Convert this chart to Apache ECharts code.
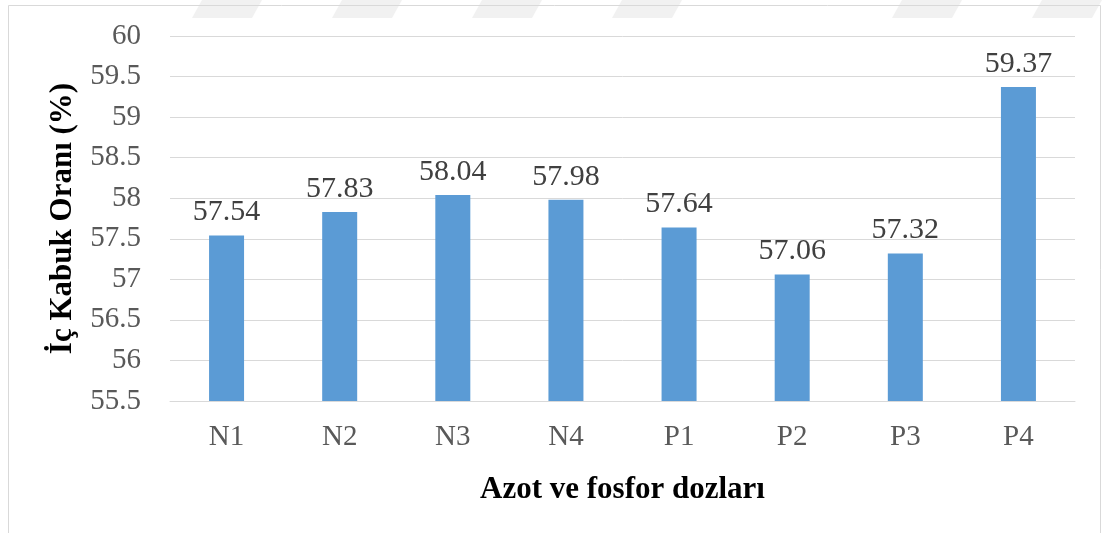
<!DOCTYPE html>
<html>
<head>
<meta charset="utf-8">
<script src="https://cdn.jsdelivr.net/npm/echarts@6/dist/echarts.min.js"></script>
<style>
  html, body { margin: 0; padding: 0; background: #fff; }
  #main { width: 1105px; height: 533px; }
</style>
</head>
<body>
<div id="main"></div>
<script>
// veriler
var categories = ['N1', 'N2', 'N3', 'N4', 'P1', 'P2', 'P3', 'P4'];
var values = [57.54, 57.83, 58.04, 57.98, 57.64, 57.06, 57.32, 59.37];
var yMin = 55.5, yMax = 60, yStep = 0.5;

var font = '"Liberation Serif", "Times New Roman", serif';

// üstteki soluk filigran şeritleri
var stripeX = [190, 330, 470, 610, 890, 1030];
var stripes = stripeX.map(function (x) {
  return {
    type: 'polygon',
    silent: true,
    z: -1,
    shape: { points: [[x + 12, 0], [x + 72, 0], [x + 62, 18], [x + 2, 18]] },
    style: { fill: '#f1f1f1' }
  };
});

var chart = echarts.init(document.getElementById('main'));
chart.setOption({
  animation: false,
  backgroundColor: '#fff',
  textStyle: { fontFamily: font },
  graphic: stripes.concat([{
    type: 'rect',
    silent: true,
    shape: { x: 8.5, y: 5.5, width: 1092, height: 540 },
    style: { fill: 'none', stroke: '#d9d9d9', lineWidth: 1 }
  }]),
  grid: { left: 170, right: 30, top: 36, bottom: 132 },
  xAxis: {
    type: 'category',
    data: categories,
    name: 'Azot ve fosfor dozları',
    nameLocation: 'middle',
    nameGap: 73,
    nameTextStyle: { fontFamily: font, fontSize: 31, fontWeight: 'bold', color: '#000' },
    axisLine: { lineStyle: { color: '#d9d9d9', width: 1 } },
    axisTick: { show: false },
    axisLabel: { fontFamily: font, fontSize: 29, color: '#595959', margin: 22 }
  },
  yAxis: {
    type: 'value',
    min: yMin,
    max: yMax,
    interval: yStep,
    name: 'İç Kabuk Oranı (%)',
    nameLocation: 'middle',
    nameRotate: 90,
    nameGap: 92,
    nameTextStyle: { fontFamily: font, fontSize: 31, fontWeight: 'bold', color: '#000' },
    axisLine: { show: false },
    axisTick: { show: false },
    splitLine: { lineStyle: { color: '#d9d9d9', width: 1 } },
    axisLabel: { fontFamily: font, fontSize: 29, color: '#595959', margin: 29 }
  },
  series: [{
    type: 'bar',
    data: values,
    barWidth: 35,
    itemStyle: { color: '#5b9bd5' },
    label: {
      show: true,
      position: 'top',
      distance: 8,
      fontFamily: font,
      fontSize: 30,
      color: '#404040'
    }
  }]
});
</script>
</body>
</html>
